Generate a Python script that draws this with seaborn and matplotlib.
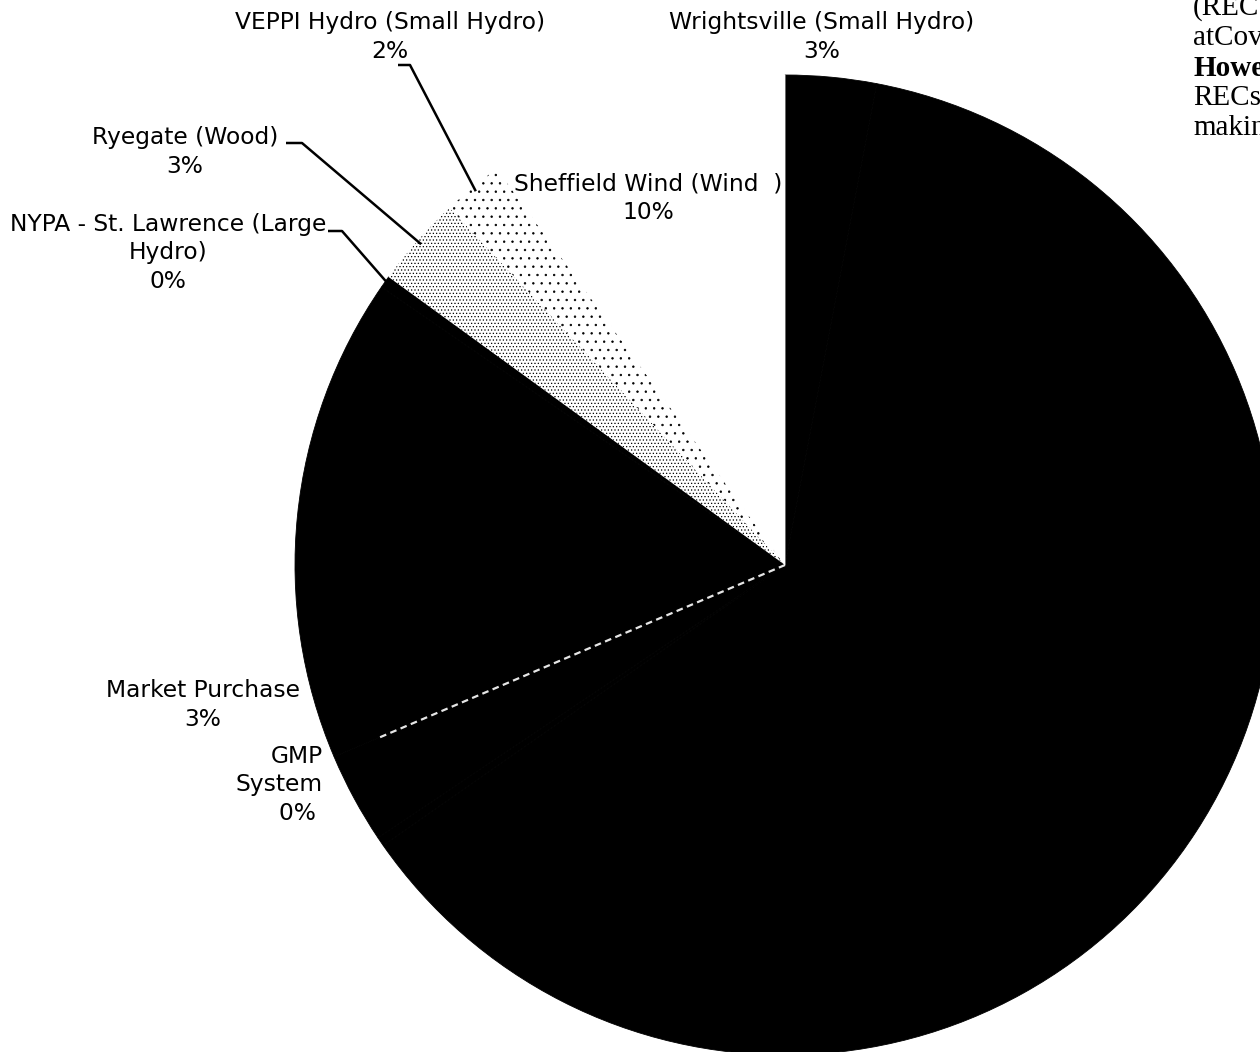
import numpy as np
import matplotlib
matplotlib.use('Agg')
import matplotlib.pyplot as plt
import seaborn as sns

# pie slices, clockwise from 12 o'clock
sources = ['Wrightsville (Small Hydro)', '', 'GMP\nSystem', 'Market Purchase', '',
           'NYPA - St. Lawrence (Large\nHydro)', 'Ryegate (Wood)',
           'VEPPI Hydro (Small Hydro)', 'Sheffield Wind (Wind  )']
shares = [3.0, 62.3, 0.3, 3.0, 16.0, 0.4, 3.0, 2.0, 10.0]
pct_text = ['3%', '', '0%', '3%', '', '0%', '3%', '2%', '10%']
fills = ['black', 'black', 'black', 'black', 'black', 'black', 'white', 'white', 'white']
hatches = [None, None, None, None, None, None, '.....', '..', None]

side_text = ['(REC', 'atCov', 'Howe', 'RECs', 'makin']

W, H = 1260, 1052

sns.set_theme(style='white')
plt.rcParams['font.family'] = ['DejaVu Sans']
plt.rcParams['hatch.linewidth'] = 0.5
plt.rcParams['text.color'] = 'black'

fig = plt.figure(figsize=(W / 100, H / 100), dpi=100)
ax = fig.add_axes([0, 0, 1, 1])

cx, cy, rad = 785, H - 565, 490
wedges, _ = ax.pie(shares, colors=fills, startangle=90, counterclock=False,
                   center=(cx, cy), radius=rad, frame=True)
for w, f, h in zip(wedges, fills, hatches):
    w.set_edgecolor(f)
    w.set_linewidth(0.6)
    if h:
        w.set_hatch(h)
        w.set_edgecolor('black')
        w.set_linewidth(0)

ax.set_xlim(0, W)
ax.set_ylim(0, H)
ax.set_aspect('equal')
ax.axis('off')


def edge_point(w, frac=0.99, ang=None):
    if ang is None:
        ang = (w.theta1 + w.theta2) / 2
    ang = np.deg2rad(ang)
    return cx + rad * frac * np.cos(ang), cy + rad * frac * np.sin(ang)


# faint speckled seam on the upper side of the market purchase slice
mx, my = edge_point(wedges[3], 0.9, wedges[3].theta1)
ax.plot([cx, mx], [cy, my], color='white', lw=1.6, ls=(0, (3, 2)), alpha=0.9)

fs = 16.8
# label placement (pixel coords, y from top)
spots = {
    0: (822, 37),
    3: (203, 705),
    5: (168, 253),
    6: (185, 152),
    7: (390, 37),
    8: (648, 198),
}
for i, (x, y) in spots.items():
    txt = sources[i] + '\n' + pct_text[i]
    ax.text(x, H - y, txt, ha='center', va='center', fontsize=fs,
            linespacing=1.3, color='black')
ax.text(323, H - 785, sources[2] + '\n' + pct_text[2] + ' ', ha='right',
        va='center', fontsize=fs, linespacing=1.3, multialignment='right')

# leader lines for the small slices on the upper left
leaders = {7: (398, 410, 65), 6: (286, 302, 143), 5: (328, 342, 231)}
for i, (x0, x1, y) in leaders.items():
    ex, ey = edge_point(wedges[i])
    ax.plot([x0, x1, ex], [H - y, H - y, ey], color='black', lw=1.8,
            solid_capstyle='butt')

# cut-off page text at the right edge
ys = [8, 38, 68, 98, 128]
for t, y in zip(side_text, ys):
    ax.text(1193, H - y, t, ha='left', va='center', fontsize=21,
            family='Liberation Serif', color='black',
            fontweight='bold' if t == 'Howe' else 'normal', clip_on=False)

fig.savefig('out.png', dpi=100)
